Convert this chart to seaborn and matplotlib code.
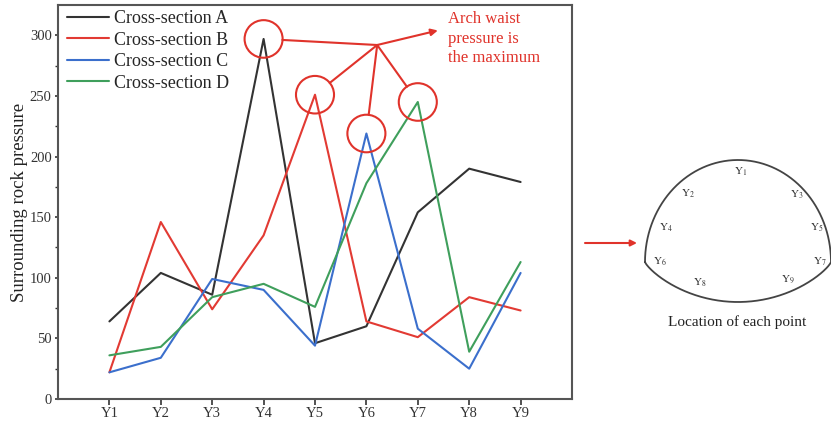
import numpy as np
import pandas as pd
import matplotlib
matplotlib.use('Agg')
import matplotlib.pyplot as plt
import seaborn as sns
from matplotlib.patches import Ellipse

# data -----------------------------------------------------------------------
points = ['Y1', 'Y2', 'Y3', 'Y4', 'Y5', 'Y6', 'Y7', 'Y8', 'Y9']
section_a = [64, 104, 86, 297, 46, 60, 154, 190, 179]
section_b = [22, 146, 74, 135, 251, 64, 51, 84, 73]
section_c = [22, 34, 99, 90, 44, 219, 58, 25, 104]
section_d = [36, 43, 84, 95, 76, 178, 245, 39, 113]
series_names = ['Cross-section A', 'Cross-section B', 'Cross-section C', 'Cross-section D']
colors = ['#333333', '#e23a33', '#3b6fcc', '#3f9f5c']
red = '#e0332b'

sns.set_style('ticks')
plt.rcParams['font.family'] = ['Liberation Serif', 'DejaVu Serif']
plt.rcParams['mathtext.fontset'] = 'stix'

pos = np.arange(1, len(points) + 1)
frames = []
for name, vals in zip(series_names, [section_a, section_b, section_c, section_d]):
    frames.append(pd.DataFrame({'pos': pos, 'pressure': vals, 'section': name}))
df = pd.concat(frames, ignore_index=True)

fig = plt.figure(figsize=(8.31, 4.23), dpi=100)
ax = fig.add_axes([58 / 831, 1 - 399 / 423, (572 - 58) / 831, (399 - 5) / 423])

sns.lineplot(data=df, x='pos', y='pressure', hue='section', palette=colors,
             linewidth=1.5, ax=ax)

ax.set_xlim(0, 10)
ax.set_ylim(0, 325)
ax.set_xticks(pos)
ax.set_xticklabels(points)
ax.set_yticks([0, 50, 100, 150, 200, 250, 300])
ax.set_yticks(np.arange(25, 325, 50), minor=True)
ax.set_xlabel('')
ax.set_ylabel('Surrounding rock pressure', fontsize=13.5, color='#222222', labelpad=1)
ax.tick_params(axis='x', which='major', labelsize=10.5, length=4, width=1.2,
               colors='#333333', pad=2)
ax.tick_params(axis='y', which='major', labelsize=10.5, length=2.5, width=1.2,
               colors='#333333', pad=2)
ax.tick_params(axis='y', which='minor', length=2, width=1.0, colors='#333333')
for sp in ax.spines.values():
    sp.set_visible(True)
    sp.set_color('#555555')
    sp.set_linewidth(1.5)

leg = ax.legend(loc='upper left', frameon=False, fontsize=13, handlelength=2.35,
                borderaxespad=0.1, labelspacing=0.25, handletextpad=0.25,
                bbox_to_anchor=(0.0, 1.01))
for line in leg.get_lines():
    line.set_linewidth(1.5)

# red circles around each peak and the connecting lines
junction = (6.21, 292)
for vals in [section_a, section_b, section_c, section_d]:
    i = int(np.argmax(vals))
    cx, cy = pos[i], vals[i]
    ax.add_patch(Ellipse((cx, cy), 0.74, 31, fill=False, ec=red, lw=1.5, zorder=5))
    ax.annotate('', xy=(cx, cy), xytext=junction,
                arrowprops=dict(arrowstyle='-', color=red, lw=1.5,
                                shrinkA=0, shrinkB=13.5))
ax.annotate('', xy=(7.39, 304), xytext=junction,
            arrowprops=dict(arrowstyle='-|>', color=red, lw=1.5,
                            mutation_scale=10, shrinkA=0, shrinkB=0))
ax.text(7.58, 320, 'Arch waist\npressure is\nthe maximum', ha='left', va='top',
        color=red, fontsize=12, linespacing=1.3)

# cross-section sketch on the right (pixel coordinates)
ov = fig.add_axes([0, 0, 1, 1])
ov.set_xlim(0, 831)
ov.set_ylim(423, 0)
ov.axis('off')
ov.patch.set_alpha(0)

ov.annotate('', xy=(637, 243), xytext=(585, 243),
            arrowprops=dict(arrowstyle='-|>', color=red, lw=1.5,
                            mutation_scale=9, shrinkA=0, shrinkB=0))

t = np.linspace(np.pi, 0, 200)
arch_x = 738 + 93 * np.cos(t)
arch_y = 262 - 102 * np.sin(t)
inv_x = np.linspace(831, 645, 200)
inv_y = 262 + 40 * (1 - ((inv_x - 738) / 93) ** 2) ** 0.8
ov.plot(np.r_[arch_x, inv_x], np.r_[arch_y, inv_y], color='#444444', lw=1.3)

label_xy = [(741, 172), (688, 194), (797, 195), (666, 228), (817, 228),
            (660, 262), (820, 262), (700, 283), (788, 279)]
for k, (lx, ly) in enumerate(label_xy):
    ov.text(lx, ly, r'$\mathrm{Y_{%d}}$' % (k + 1), ha='center', va='center',
            fontsize=8, color='#333333')
ov.text(737, 322, 'Location of each point', ha='center', va='center',
        fontsize=11, color='#222222')

fig.savefig('out.png', dpi=100)
